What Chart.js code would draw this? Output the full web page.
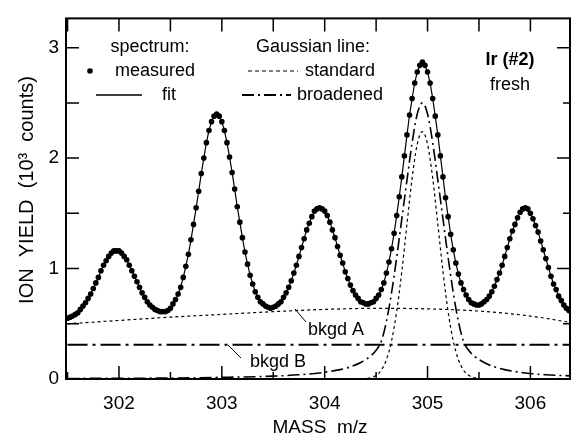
<!DOCTYPE html>
<html><head><meta charset="utf-8">
<script src="https://cdn.jsdelivr.net/npm/chart.js@4/dist/chart.umd.min.js"></script>
<style>html,body{margin:0;padding:0;background:#fff}canvas{display:block}</style>
</head><body>
<canvas id="c" width="574" height="439"></canvas>
<script>
// ---------- data ----------
const massStart = 301.5;
const massStep = 0.025;
const measuredYield = [
 0.55,0.56,0.57,0.585,0.60,0.63,0.66,0.69,0.73,0.77,
 0.82,0.87,0.92,0.98,1.03,1.07,1.11,1.14,1.16,1.16,
 1.16,1.14,1.11,1.08,1.03,0.98,0.93,0.88,0.83,0.78,
 0.74,0.70,0.67,0.65,0.63,0.62,0.61,0.61,0.61,0.62,
 0.64,0.68,0.72,0.77,0.83,0.92,1.02,1.13,1.26,1.40,
 1.55,1.70,1.86,2.00,2.14,2.25,2.33,2.38,2.40,2.38,
 2.33,2.25,2.14,2.01,1.87,1.72,1.56,1.42,1.28,1.15,
 1.04,0.94,0.86,0.79,0.74,0.70,0.68,0.66,0.65,0.64,
 0.65,0.66,0.68,0.70,0.74,0.78,0.83,0.89,0.96,1.03,
 1.11,1.19,1.27,1.35,1.41,1.47,1.52,1.54,1.55,1.54,
 1.52,1.48,1.42,1.35,1.28,1.20,1.12,1.05,0.97,0.91,
 0.85,0.80,0.76,0.73,0.70,0.69,0.68,0.68,0.69,0.70,
 0.73,0.76,0.81,0.87,0.96,1.06,1.18,1.32,1.48,1.65,
 1.83,2.02,2.21,2.39,2.54,2.68,2.78,2.84,2.87,2.84,
 2.78,2.68,2.54,2.38,2.21,2.02,1.83,1.64,1.47,1.31,
 1.17,1.05,0.95,0.87,0.81,0.76,0.72,0.69,0.68,0.67,
 0.67,0.68,0.70,0.72,0.75,0.79,0.84,0.90,0.96,1.03,
 1.11,1.19,1.27,1.34,1.40,1.46,1.51,1.54,1.55,1.54,
 1.50,1.45,1.39,1.33,1.25,1.17,1.09,1.01,0.93,0.86,
 0.81,0.75,0.71,0.67,0.64,0.62,0.60
];
const standardMass  = [301.5,304.35,304.4,304.45,304.5,304.55,304.6,304.65,304.7,304.75,304.8,304.85,304.9,304.95,305.0,305.05,305.1,305.15,305.2,305.25,305.3,305.35,305.4,305.45,305.5,305.55,306.4];
const standardYield = [0,0,0.004,0.012,0.033,0.080,0.175,0.344,0.610,0.974,1.402,1.819,2.126,2.24,2.126,1.819,1.402,0.974,0.610,0.344,0.175,0.080,0.033,0.012,0.004,0,0];
const broadenedMass  = [301.5,302.0,302.5,303.0,303.5,303.75,303.95,304.15,304.25,304.35,304.45,304.5,304.55,304.6,304.65,304.7,304.75,304.8,304.85,304.9,304.95,305.0,305.05,305.1,305.15,305.2,305.25,305.3,305.35,305.4,305.45,305.55,305.65,305.75,305.95,306.15,306.4];
const broadenedYield = [0.005,0.006,0.009,0.015,0.026,0.038,0.055,0.085,0.11,0.15,0.21,0.26,0.34,0.52,0.78,1.10,1.45,1.80,2.14,2.40,2.50,2.40,2.14,1.80,1.45,1.10,0.78,0.52,0.34,0.26,0.21,0.15,0.11,0.085,0.055,0.038,0.028];
const bkgdAMass  = [301.5,302.0,302.5,303.0,303.5,304.0,304.5,305.0,305.5,306.0,306.4];
const bkgdAYield = [0.50,0.53,0.56,0.585,0.61,0.63,0.64,0.635,0.615,0.57,0.51];
const bkgdBMass  = [301.5,306.4];
const bkgdBYield = [0.31,0.31];
const xMajor = [302,303,304,305,306];
const xMinor = [301.5,302.5,303.5,304.5,305.5];
const yMajor = [0,1,2,3];
const yMinor = [0.5,1.5,2.5];
const xRange = [301.485,306.385];
const yRange = [0,3.265];

// ---------- build ----------
const pts = (xs, ys) => ys.map((v,i)=>({x:xs[i], y:v}));
const measuredMass = measuredYield.map((_,i)=> +(massStart + i*massStep).toFixed(3));
const measuredPts = pts(measuredMass, measuredYield);

const FONT = '"Liberation Sans", Arial, Helvetica, sans-serif';

const decor = {
  id:'decor',
  afterDraw(chart){
    const {ctx, chartArea:a, scales:{x,y}} = chart;
    ctx.save();
    // inward ticks
    ctx.strokeStyle='#000'; ctx.lineWidth=1.5;
    const L=13, S=7;
    const tx = (v, lb, lt) => { const p=x.getPixelForValue(v); ctx.beginPath(); ctx.moveTo(p,a.bottom); ctx.lineTo(p,a.bottom-lb); ctx.moveTo(p,a.top); ctx.lineTo(p,a.top+lt); ctx.stroke(); };
    const ty = (v, ll, lr) => { const p=y.getPixelForValue(v); ctx.beginPath(); ctx.moveTo(a.left,p); ctx.lineTo(a.left+ll,p); ctx.moveTo(a.right,p); ctx.lineTo(a.right-lr,p); ctx.stroke(); };
    xMajor.forEach(v=>tx(v,L,L)); xMinor.forEach(v=>tx(v,S,L));
    yMajor.forEach(v=>ty(v,L,L)); yMinor.forEach(v=>ty(v,L,S));
    // frame
    ctx.lineWidth=2;
    ctx.strokeRect(a.left, a.top, a.right-a.left, a.bottom-a.top);

    // axis titles
    ctx.fillStyle='#000';
    ctx.font='19px '+FONT; ctx.textAlign='center'; ctx.textBaseline='middle';
    ctx.fillText('MASS  m/z', 320, 428);
    ctx.save(); ctx.translate(27,190); ctx.rotate(-Math.PI/2);
    ctx.font='20px '+FONT;
    ctx.fillText('ION  YIELD  (10\u00B3  counts)', 0, 0);
    ctx.restore();

    // legend block
    ctx.font='18px '+FONT;
    ctx.textAlign='center';
    ctx.fillText('spectrum:', 150, 47);
    ctx.fillText('Gaussian line:', 313, 47);
    ctx.textAlign='left';
    ctx.fillText('measured', 115, 71);
    ctx.fillText('fit', 162, 95);
    ctx.fillText('standard', 305, 71);
    ctx.fillText('broadened', 297, 95);
    ctx.beginPath(); ctx.arc(90,71,2.8,0,Math.PI*2); ctx.fill();
    ctx.lineWidth=1.3; ctx.beginPath(); ctx.moveTo(96,95); ctx.lineTo(142,95); ctx.stroke();
    ctx.lineWidth=1.2; ctx.setLineDash([4,3]); ctx.beginPath(); ctx.moveTo(248,71); ctx.lineTo(298,71); ctx.stroke();
    ctx.lineWidth=2.2; ctx.setLineDash([12,4,2,4]); ctx.beginPath(); ctx.moveTo(242,95); ctx.lineTo(291,95); ctx.stroke();
    ctx.setLineDash([]);
    ctx.textAlign='center';
    ctx.font='bold 18px '+FONT; ctx.fillText('Ir (#2)', 510, 60);
    ctx.font='18px '+FONT; ctx.fillText('fresh', 510, 85);

    // background labels
    ctx.textAlign='left';
    ctx.fillText('bkgd A', 308, 330);
    ctx.fillText('bkgd B', 250, 362);
    ctx.lineWidth=1;
    ctx.beginPath(); ctx.moveTo(295,309); ctx.lineTo(306,322); ctx.stroke();
    ctx.beginPath(); ctx.moveTo(228,345); ctx.lineTo(241,358); ctx.stroke();
    ctx.restore();
  }
};

new Chart(document.getElementById('c'), {
  type:'scatter',
  data:{ datasets:[
    { label:'measured', data:measuredPts, showLine:false, pointRadius:2.8, pointBackgroundColor:'#000', pointBorderWidth:0, clip:0 },
    { label:'fit', data:measuredPts, showLine:true, borderColor:'#000', borderWidth:1.2, pointRadius:0, clip:0 },
    { label:'standard', data:pts(standardMass,standardYield), showLine:true, borderColor:'#000', borderWidth:1.2, borderDash:[3,3], pointRadius:0, cubicInterpolationMode:'monotone', clip:0 },
    { label:'broadened', data:pts(broadenedMass,broadenedYield), showLine:true, borderColor:'#000', borderWidth:1.6, borderDash:[12,4,2,4], pointRadius:0, cubicInterpolationMode:'monotone', clip:0 },
    { label:'bkgd A', data:pts(bkgdAMass,bkgdAYield), showLine:true, borderColor:'#000', borderWidth:1.2, borderDash:[3,3], pointRadius:0, cubicInterpolationMode:'monotone', clip:0 },
    { label:'bkgd B', data:pts(bkgdBMass,bkgdBYield), showLine:true, borderColor:'#000', borderWidth:2, borderDash:[20,5,3,5], pointRadius:0, clip:0 }
  ]},
  options:{
    responsive:false, animation:false, devicePixelRatio:1,
    layout:{ padding:{ left:0, right:1, top:13, bottom:0 } },
    plugins:{ legend:{display:false}, tooltip:{enabled:false} },
    scales:{
      x:{ type:'linear', min:xRange[0], max:xRange[1],
          afterFit(s){ s.height = 60; },
          afterBuildTicks(s){ s.ticks = xMajor.map(v=>({value:v})); },
          grid:{ display:false, drawTicks:false }, border:{display:false},
          ticks:{ color:'#000', font:{ family:FONT, size:19 }, padding:13, maxRotation:0, callback:v=>String(v) } },
      y:{ type:'linear', min:yRange[0], max:yRange[1],
          afterFit(s){ s.width = 66; },
          afterBuildTicks(s){ s.ticks = yMajor.map(v=>({value:v})); },
          grid:{ display:false, drawTicks:false }, border:{display:false},
          ticks:{ color:'#000', font:{ family:FONT, size:19 }, padding:7, callback:v=>String(v) } }
    }
  },
  plugins:[decor]
});
</script>
</body></html>
